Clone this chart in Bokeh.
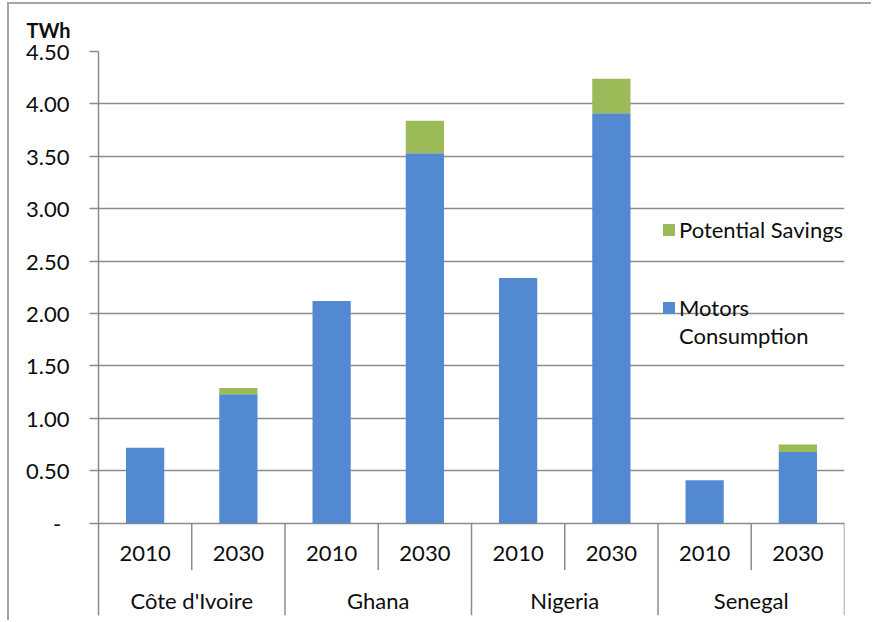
from bokeh.plotting import figure
from bokeh.models import (FactorRange, Range1d, FixedTicker, CustomJSTickFormatter,
                          ColumnDataSource, Legend, LegendItem, Title)
from bokeh.core.properties import value
from bokeh.embed import file_html
from bokeh.resources import INLINE

# Electricity used by motors and the share that could be saved (TWh)
countries = ["Côte d'Ivoire", "Ghana", "Nigeria", "Senegal"]
years = ["2010", "2030"]
motors_consumption = [0.72, 1.23, 2.12, 3.53, 2.34, 3.91, 0.41, 0.68]
potential_savings = [0.00, 0.06, 0.00, 0.31, 0.00, 0.33, 0.00, 0.07]
y_ticks = [0.0, 0.5, 1.0, 1.5, 2.0, 2.5, 3.0, 3.5, 4.0, 4.5]

FONT = "Lato"
BLUE = "#5289d1"
GREEN = "#9bbb59"
GRID = "#8c8c8c"
INK = "#0d0d0d"

factors = [(c, y) for c in countries for y in years]

source = ColumnDataSource(data=dict(
    x=factors,
    motors=motors_consumption,
    savings=potential_savings,
))

p = figure(
    width=864, height=618,
    x_range=FactorRange(*factors, factor_padding=0, group_padding=0,
                        subgroup_padding=0, range_padding=0),
    y_range=Range1d(-0.88, 4.5),
    output_backend="svg", toolbar_location=None,
    min_border_left=89, min_border_right=29, min_border_top=47, min_border_bottom=7,
    outline_line_color=None,
    # thin grey frame on the top and left of the chart
    styles={"margin-left": "7px", "margin-top": "2px",
            "border-left": "2px solid #a6a6a6", "border-top": "2px solid #a6a6a6"},
)

bars = p.vbar_stack(["motors", "savings"], x="x", width=0.41,
                    color=[BLUE, GREEN], line_color=None, source=source)

# value axis
p.yaxis.ticker = FixedTicker(ticks=y_ticks)
p.yaxis.formatter = CustomJSTickFormatter(
    code="return tick == 0 ? '-\u00a0\u2009' : tick.toFixed(2);")
p.yaxis.major_label_text_font = FONT
p.yaxis.major_label_text_font_size = "22px"
p.yaxis.major_label_text_color = INK
p.yaxis.major_label_standoff = 20
p.yaxis.major_tick_in = 0
p.yaxis.major_tick_out = 9
p.yaxis.major_tick_line_color = GRID
p.yaxis.major_tick_line_width = 1.5
p.yaxis.minor_tick_line_color = None
p.yaxis.axis_line_color = GRID
p.yaxis.axis_line_width = 1.5

p.ygrid.ticker = FixedTicker(ticks=y_ticks)
p.ygrid.grid_line_color = GRID
p.ygrid.grid_line_width = 1.5
p.xgrid.visible = False
p.xaxis.visible = False

# unit label above the value axis
p.add_layout(Title(text="TWh", align="left", offset=-72, standoff=20,
                   text_font=FONT, text_font_size="20px", text_font_style="bold",
                   text_color=INK), "above")

# category table below the zero line: separators and labels
year_sep_bottom = -0.445
frame_bottom = -0.88
sep_x, sep_y0, sep_y1 = [], [], []
for c in countries:
    sep_x.append((c, years[0], 0.5))
    sep_y0.append(0.0)
    sep_y1.append(year_sep_bottom)
    sep_x.append((c, years[-1], 0.5))
    sep_y0.append(0.0)
    sep_y1.append(frame_bottom)
p.segment(x0=sep_x, x1=sep_x, y0=sep_y0, y1=sep_y1,
          line_color=GRID, line_width=1.5)

p.text(x=factors, y=[-0.29] * len(factors), text=[f[1] for f in factors],
       text_font=value(FONT), text_font_size="22px", text_color=INK,
       text_align="center", text_baseline="middle")
p.text(x=[(c, years[0], 0.5) for c in countries], y=[-0.74] * len(countries),
       text=countries,
       text_font=value(FONT), text_font_size="22px", text_color=INK,
       text_align="center", text_baseline="middle")

# legend: two blocks so the blue key sits beside the first line of its label
blank = p.scatter(x=[], y=[], alpha=0)
legend_style = dict(orientation="vertical",
                    label_text_font=FONT, label_text_font_size="22px",
                    label_text_color=INK, glyph_width=15, glyph_height=15,
                    label_standoff=3, spacing=1, padding=0, margin=0,
                    border_line_color=None, background_fill_alpha=0)
p.add_layout(Legend(items=[LegendItem(label="Potential Savings", renderers=[bars[1]])],
                    location=(563, 372), **legend_style))
p.add_layout(Legend(items=[LegendItem(label="Motors", renderers=[bars[0]]),
                           LegendItem(label="Consumption", renderers=[blank])],
                    location=(563, 266), **legend_style))

open("out.html", "w").write(file_html(p, INLINE))
